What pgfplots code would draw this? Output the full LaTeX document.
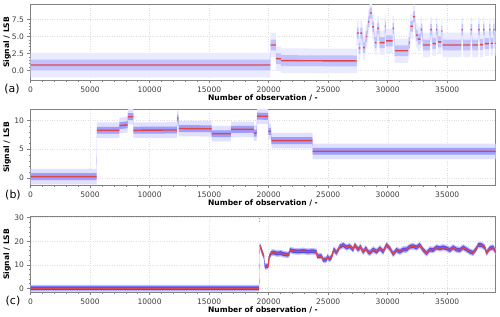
\documentclass[border=0pt]{standalone}
\usepackage{pgfplots}
\pgfplotsset{compat=1.18}
\usepgfplotslibrary{fillbetween}
\usepackage{pgfplotstable}
\usepackage{fontspec}
\setmainfont{DejaVu Sans}
\definecolor{redl}{RGB}{225,70,70}
\definecolor{framegray}{RGB}{130,130,130}

% x, m = level used for the scatter band, r = level of the red line (nan = gap)
\pgfplotstableread{
x m r
0 0.80 0.80
20150 0.80 0.80
20150 0.80 nan
20160 3.75 3.75
20600 3.75 3.75
20600 3.75 nan
20610 1.75 1.75
21030 1.70 1.70
21030 1.70 nan
21040 1.45 1.45
27400 1.40 1.40
27400 1.40 nan
27410 5.5 5.5
27550 5.5 5.5
27550 5.5 nan
27560 3.3 3.3
27700 3.3 3.3
27700 3.3 nan
27710 5.5 5.5
27850 5.5 5.5
27850 5.5 nan
27940 3.35 3.35
28080 3.35 3.35
28080 3.35 nan
28160 5.0 5.0
28270 5.0 5.0
28270 5.0 nan
28360 7.15 7.15
28440 7.15 7.15
28440 7.15 nan
28500 8.45 8.45
28660 8.45 8.45
28660 8.45 nan
28720 6.4 6.4
28830 6.4 6.4
28830 6.4 nan
28910 4.1 4.1
29050 4.1 4.1
29050 4.1 nan
29140 6.2 6.2
29250 6.2 6.2
29250 6.2 nan
29330 4.1 4.1
29740 4.1 4.1
29740 4.1 nan
29760 6.5 6.5
29830 6.5 6.5
29830 6.5 nan
29850 4.35 4.35
30400 4.35 4.35
30400 4.35 nan
30410 6.2 6.2
30510 6.2 6.2
30510 6.2 nan
30590 2.9 2.9
31710 2.9 2.9
31710 2.9 nan
31770 4.1 4.1
31850 4.1 4.1
31850 4.1 nan
31910 6.5 6.5
32120 6.5 6.5
32120 6.5 nan
32130 7.9 7.9
32270 7.9 7.9
32270 7.9 nan
32360 5.2 5.2
32500 5.2 5.2
32500 5.2 nan
32550 4.6 4.6
32750 4.6 4.6
32750 4.6 nan
32780 6.0 6.0
32880 6.0 6.0
32880 6.0 nan
32970 3.75 3.75
33530 3.75 3.75
33530 3.75 nan
33590 6.0 6.0
33700 6.0 6.0
33700 6.0 nan
33760 3.95 3.95
34040 3.95 3.95
34040 3.95 nan
34060 6.0 6.0
34150 6.0 6.0
34150 6.0 nan
34230 4.2 4.2
34500 4.2 4.2
34500 4.2 nan
34510 5.8 5.8
34590 5.8 5.8
34590 5.8 nan
34600 3.75 3.75
36180 3.75 3.75
36180 3.75 nan
36200 6.0 6.0
36320 6.0 6.0
36320 6.0 nan
36340 3.75 3.75
36940 3.75 3.75
36940 3.75 nan
36960 6.0 6.0
37080 6.0 6.0
37080 6.0 nan
37100 3.75 3.75
37580 3.75 3.75
37580 3.75 nan
37600 6.0 6.0
37720 6.0 6.0
37720 6.0 nan
37740 3.8 3.8
38000 3.8 3.8
38000 3.8 nan
38020 6.0 6.0
38120 6.0 6.0
38120 6.0 nan
38140 3.95 3.95
38510 3.95 3.95
38510 3.95 nan
38530 6.0 6.0
38620 6.0 6.0
38620 6.0 nan
38640 4.0 4.0
38850 4.0 4.0
38850 4.0 nan
38870 6.0 6.0
38960 6.0 6.0
38960 6.0 nan
38980 4.0 4.0
39050 4.0 4.0
}\dataA

\pgfplotstableread{
x m r
0 0.25 0.25
5560 0.25 0.25
5560 0.25 nan
5570 8.3 8.3
7460 8.3 8.3
7460 8.3 nan
7470 9.1 9.1
8160 9.25 9.25
8160 9.25 nan
8170 10.65 10.65
8630 10.65 10.65
8630 10.65 nan
8640 8.3 8.3
12300 8.35 8.35
12300 8.35 nan
12320 10.35 10.35
12420 10.35 10.35
12420 10.35 nan
12460 8.6 8.6
15210 8.55 8.55
15210 8.55 nan
15220 7.7 7.7
16830 7.7 7.7
16830 7.7 nan
16840 8.45 8.45
18750 8.45 8.45
18750 8.45 nan
18760 7.8 7.8
18990 7.8 7.8
18990 7.8 nan
19040 10.75 10.75
19960 10.7 10.7
19960 10.7 nan
19970 8.1 8.1
20180 8.1 8.1
20180 8.1 nan
20240 6.5 6.5
23680 6.5 6.5
23680 6.5 nan
23690 4.65 4.65
39050 4.65 4.65
}\dataB

\pgfplotstableread{
x m r
0 0.1 0.1
19200 0.1 0.1
19200 0.1 nan
19260 18.3 18.3
19450 15.5 15.5
19600 13.5 13.5
19600 13.5 nan
19683 9.3 9.3
19963 9.5 9.5
20047 13.5 13.5
20243 15.1 15.1
20400 15.3 15.3
20700 14.8 14.8
21000 15.0 15.0
21300 14.5 14.5
21600 14.3 14.3
21725 14.6 14.6
21725 14.6 nan
21780 16.3 16.3
22050 15.9 15.9
22500 15.7 15.7
22900 15.9 15.9
23300 15.6 15.6
23700 15.8 15.8
24021 15.5 15.5
24077 13.7 13.7
24441 13.7 13.7
24581 12.1 12.1
24861 12.3 12.3
24950 13.5 13.5
25100 12.4 12.4
25281 13.3 13.3
25475 16.5 16.5
25700 15.1 15.1
25978 17.7 17.7
26260 18.4 18.4
26535 17.4 17.4
26815 17.9 17.9
27095 16.5 16.5
27235 18.4 18.4
27515 16.5 16.5
27710 17.7 17.7
27935 15.5 15.5
28160 17.0 17.0
28355 15.5 15.5
28497 15.1 15.1
28776 16.5 16.5
29056 15.6 15.6
29336 17.0 17.0
29616 15.6 15.6
29896 18.4 18.4
30176 17.0 17.0
30456 14.6 14.6
30736 16.3 16.3
31016 15.6 15.6
31296 16.5 16.5
31576 16.5 16.5
31856 17.7 17.7
32136 17.9 17.9
32416 17.4 17.4
32696 18.4 18.4
32976 16.3 16.3
33256 14.9 14.9
33536 16.5 16.5
33816 16.3 16.3
34096 17.4 17.4
34376 17.0 17.0
34656 17.4 17.4
34936 17.0 17.0
35216 16.3 16.3
35496 17.4 17.4
35776 16.5 16.5
36056 16.3 16.3
36336 17.4 17.4
36616 16.5 16.5
36896 15.6 15.6
37176 15.1 15.1
37456 17.0 17.0
37596 18.4 18.4
37876 18.4 18.4
38156 17.4 17.4
38296 15.1 15.1
38576 17.0 17.0
38856 17.4 17.4
39050 15.6 15.6
}\dataC

\pgfplotsset{
  panel/.style={
    scale only axis, width=465bp, height=75.5bp,
    xmin=0, xmax=39050,
    xtick={0,5000,...,35000},
    scaled x ticks=false, scaled y ticks=false,
    minor x tick num=4,
    axis line style={framegray, line width=0.7pt},
    tick align=outside, tick pos=left,
    major tick length=3bp, minor tick length=1.8bp,
    every tick/.style={framegray, line width=0.5pt},
    grid=major, major grid style={dotted, black!13, line width=0.4pt},
    xlabel={\bfseries Number of observation / -},
    ylabel={\bfseries Signal / LSB},
    every axis x label/.style={at={(axis description cs:0.5,-0.24)}, anchor=center},
    every axis y label/.style={at={(axis description cs:-0.0505,0.5)}, rotate=90, anchor=center},
    ticklabel style={font=\fontsize{7.6}{9}\selectfont, text=black!75},
    label style={font=\fontsize{7.6}{9}\selectfont},
    /pgf/number format/assume math mode=true,
    /pgf/number format/1000 sep={},
  },
  redline/.style={draw=redl, line width=1.4pt, unbounded coords=jump, no markers},
}

\begin{document}
\begin{tikzpicture}

% ---------- (a)
\begin{axis}[panel, at={(30.5bp,-80bp)}, anchor=south west,
  ymin=-1.4, ymax=9.7, ytick={0,2.5,5,7.5}, minor y tick num=4,
  yticklabel style={/pgf/number format/.cd, fixed, fixed zerofill, precision=1}]
\addplot[draw=none, name path=ao, forget plot] table[x=x, y expr=\thisrow{m}+1.8] {\dataA};
\addplot[draw=none, name path=au, forget plot] table[x=x, y expr=\thisrow{m}-1.8] {\dataA};
\addplot[blue!8, draw=none, forget plot] fill between[of=ao and au];
\addplot[draw=none, name path=ai, forget plot] table[x=x, y expr=\thisrow{m}+0.8] {\dataA};
\addplot[draw=none, name path=aj, forget plot] table[x=x, y expr=\thisrow{m}-0.8] {\dataA};
\addplot[blue!24, draw=none, forget plot] fill between[of=ai and aj];
\addplot[redline] table[x=x, y=r] {\dataA};
\end{axis}

% ---------- (b)
\begin{axis}[panel, at={(30.5bp,-185bp)}, anchor=south west,
  ymin=-1.2, ymax=11.9, ytick={0,5,10}, minor y tick num=4]
\addplot[draw=none, name path=bo, forget plot] table[x=x, y expr=\thisrow{m}+1.35] {\dataB};
\addplot[draw=none, name path=bu, forget plot] table[x=x, y expr=\thisrow{m}-1.35] {\dataB};
\addplot[blue!12, draw=none, forget plot] fill between[of=bo and bu];
\addplot[draw=none, name path=bi, forget plot] table[x=x, y expr=\thisrow{m}+0.6] {\dataB};
\addplot[draw=none, name path=bj, forget plot] table[x=x, y expr=\thisrow{m}-0.6] {\dataB};
\addplot[blue!38, draw=none, forget plot] fill between[of=bi and bj];
\addplot[redline] table[x=x, y=r] {\dataB};
\end{axis}

% ---------- (c)
\begin{axis}[panel, at={(30.5bp,-292bp)}, anchor=south west,
  ymin=-1.5, ymax=30.5, ytick={0,10,20,30}, minor y tick num=4]
\addplot[draw=none, name path=co, forget plot] table[x=x, y expr=\thisrow{m}+1.4] {\dataC};
\addplot[draw=none, name path=cu, forget plot] table[x=x, y expr=\thisrow{m}-1.4] {\dataC};
\addplot[blue!25, draw=none, forget plot] fill between[of=co and cu];
\addplot[draw=none, name path=ci, forget plot] table[x=x, y expr=\thisrow{m}+0.8] {\dataC};
\addplot[draw=none, name path=cj, forget plot] table[x=x, y expr=\thisrow{m}-0.8] {\dataC};
\addplot[blue!70, draw=none, forget plot] fill between[of=ci and cj];
\addplot[redline] table[x=x, y=r] {\dataC};
\addplot[only marks, mark=*, mark size=0.5pt, red!45, draw=none] coordinates {(19220,29.6) (19230,28.4)};
\end{axis}

\node[font=\fontsize{11}{13}\selectfont] at (12bp,-89bp) {(a)};
\node[font=\fontsize{11}{13}\selectfont] at (13bp,-195bp) {(b)};
\node[font=\fontsize{11}{13}\selectfont] at (13bp,-301.5bp) {(c)};
\pgfresetboundingbox
\path[use as bounding box] (0,0) rectangle (500bp,-317bp);
\end{tikzpicture}
\end{document}
